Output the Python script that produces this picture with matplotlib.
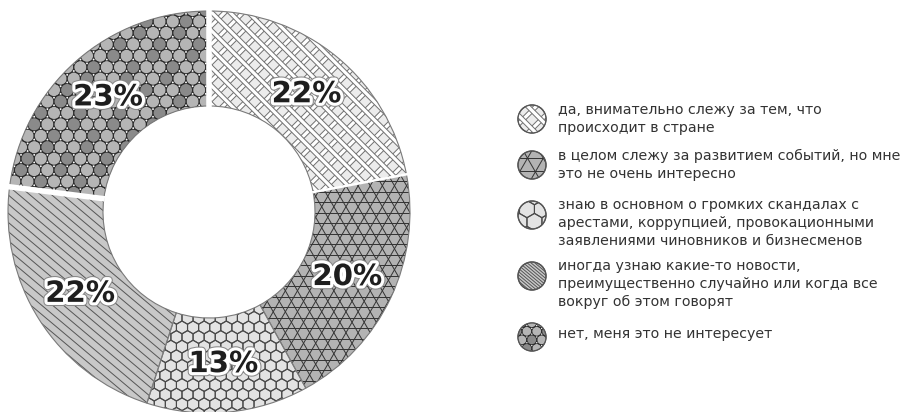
import numpy as np
import matplotlib
matplotlib.use("Agg")
import matplotlib.pyplot as plt
import matplotlib.patches as mpatches
import matplotlib.patheffects as pe
from matplotlib.collections import LineCollection, PatchCollection

plt.rcParams['font.family'] = ['DejaVu Sans']

values = [22, 20, 13, 22, 23]
labels = [
    "да, внимательно слежу за тем, что\nпроисходит в стране",
    "в целом слежу за развитием событий, но мне\nэто не очень интересно",
    "знаю в основном о громких скандалах с\nарестами, коррупцией, провокационными\nзаявлениями чиновников и бизнесменов",
    "иногда узнаю какие-то новости,\nпреимущественно случайно или когда все\nвокруг об этом говорят",
    "нет, меня это не интересует",
]
kinds = ["weave", "kagome", "hex", "diag", "circles"]
bg = ["#ececec", "#b3b3b3", "#e3e3e3", "#c8c8c8", "#5c5c5c"]


def line_family(cx, cy, ext, angle, step, offset=0.0):
    a = np.deg2rad(angle)
    d = np.array([np.cos(a), np.sin(a)])
    n = np.array([-np.sin(a), np.cos(a)])
    segs = []
    for k in np.arange(-ext, ext + step, step):
        p = np.array([cx, cy]) + n * (k + offset)
        segs.append([p - d * ext, p + d * ext])
    return segs


def add_pattern(ax, kind, clip, cx, cy, ext, s=1.0):
    arts = []
    if kind == "weave":
        for ang in (45, -45):
            band = line_family(cx, cy, ext, ang, 13 * s)
            arts.append(LineCollection(band, colors="white", linewidths=3.0 * s))
            for o in (-2.1 * s, 2.1 * s):
                arts.append(LineCollection(line_family(cx, cy, ext, ang, 13 * s, o),
                                           colors="#707070", linewidths=0.7))
    elif kind == "kagome":
        h = 10.5 * s
        for ang, off in ((0, 0), (60, 0), (120, h / 2)):
            arts.append(LineCollection(line_family(cx, cy, ext, ang, h, off),
                                       colors="#333333", linewidths=0.7))
    elif kind == "hex":
        r = 6.4 * s
        w = r * np.sqrt(3)
        polys = []
        for j, y in enumerate(np.arange(cy - ext, cy + ext, 1.5 * r)):
            for x in np.arange(cx - ext, cx + ext, w):
                polys.append(mpatches.RegularPolygon((x + (w / 2) * (j % 2), y), 6, radius=r))
        arts.append(PatchCollection(polys, facecolor="none", edgecolor="#4a4a4a", linewidth=0.8))
    elif kind == "diag":
        arts.append(LineCollection(line_family(cx, cy, ext, -40, 7 * s),
                                   colors="#555555", linewidths=0.7))
    elif kind == "circles":
        r = 6.6 * s
        dx = 2 * r
        dy = r * np.sqrt(3)
        light, dark, dots = [], [], []
        for j, y in enumerate(np.arange(cy - ext, cy + ext, dy)):
            for i, x in enumerate(np.arange(cx - ext, cx + ext, dx)):
                xx = x + r * (j % 2)
                col = (i * 2 + j) % 3
                (dark if col == 0 else light).append(mpatches.Circle((xx, y), r))
                dots.append(mpatches.Circle((xx + r, y + dy / 3), 0.9 * s))
                dots.append(mpatches.Circle((xx + r, y - dy / 3), 0.9 * s))
        arts.append(PatchCollection(light, facecolor="#b5b5b5", edgecolor="#2a2a2a", linewidth=0.8))
        arts.append(PatchCollection(dark, facecolor="#8a8a8a", edgecolor="#2a2a2a", linewidth=0.8))
        arts.append(PatchCollection(dots, facecolor="white", edgecolor="none"))
    for a in arts:
        a.set_clip_path(clip)
        a.set_zorder(2)
        ax.add_artist(a)


fig = plt.figure(figsize=(9.09, 4.12), dpi=100)
ax = fig.add_axes([0, 0, 1, 1])

cx, cy, R, W = 209, 200, 201, 95
wedges, texts, autotexts = ax.pie(
    values, startangle=90, counterclock=False, radius=R, center=(cx, cy),
    colors=bg, autopct=lambda p: f"{p:.0f}%", pctdistance=0.76,
    wedgeprops=dict(width=W, edgecolor="none", linewidth=0),
)

for w, kind in zip(wedges, kinds):
    w.set_zorder(1)
    add_pattern(ax, kind, w, cx, cy, R + 20)
    outline = mpatches.Wedge(w.center, w.r, w.theta1, w.theta2, width=w.width,
                             fill=False, edgecolor="#7a7a7a", linewidth=0.8, zorder=3)
    ax.add_patch(outline)

# white separators
for ang, lw in ((wedges[0].theta2, 4.0), (wedges[3].theta1, 4.0), (wedges[0].theta1, 1.8)):
    a = np.deg2rad(ang)
    ax.plot([cx + (R - W - 1) * np.cos(a), cx + (R + 2) * np.cos(a)],
            [cy + (R - W - 1) * np.sin(a), cy + (R + 2) * np.sin(a)],
            color="white", lw=lw, solid_capstyle="butt", zorder=4)

for t in autotexts:
    t.set_fontsize(21)
    t.set_fontweight("heavy")
    t.set_color("#1e1e1e")
    t.set_zorder(5)
    t.set_path_effects([pe.Stroke(linewidth=6, foreground="#888888"),
                        pe.Stroke(linewidth=4.5, foreground="white"), pe.Normal()])

# legend
leg_x, text_x = 532, 558
circle_y = [293, 247, 197, 136, 75]
text_y = [309, 263, 214, 153, 85]
for kind, col, y, ty, lab in zip(kinds, bg, circle_y, text_y, labels):
    c = mpatches.Circle((leg_x, y), 14, facecolor=col, edgecolor="#555555", linewidth=0.9, zorder=1)
    ax.add_patch(c)
    add_pattern(ax, kind, c, leg_x, y, 20, s={"weave": 1.0, "kagome": 1.3, "hex": 1.35,
                                               "diag": 0.35, "circles": 0.75}[kind])
    ax.add_patch(mpatches.Circle((leg_x, y), 14, fill=False, edgecolor="#555555",
                                 linewidth=0.9, zorder=3))
    ax.text(text_x, ty, lab, fontsize=10.2, color="#333333", va="top",
            linespacing=1.36)

ax.set_xlim(0, 909)
ax.set_ylim(0, 412)
ax.set_aspect("equal")
ax.axis("off")
fig.savefig("out.png", dpi=100, facecolor="white")
